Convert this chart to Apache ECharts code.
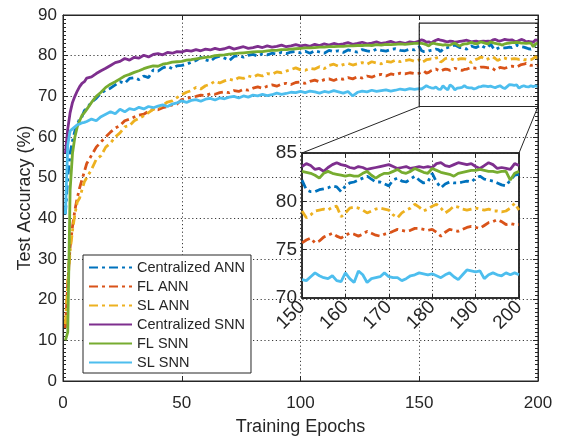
<!DOCTYPE html>
<html>
<head>
<meta charset="utf-8">
<script src="https://cdn.jsdelivr.net/npm/echarts@6/dist/echarts.min.js"></script>
<style>
  html, body { margin: 0; padding: 0; background: #fff; }
  #main { width: 561px; height: 441px; }
</style>
</head>
<body>
<div id="main"></div>
<script>
// epochs sampled: every epoch early and inside the zoom window, every 2nd in between
const epochs = [1,2,3,4,5,6,7,8,9,
  10,12,14,16,18,20,22,24,26,28,30,32,34,36,38,40,42,44,46,48,
  50,52,54,56,58,60,62,64,66,68,70,72,74,76,78,80,82,84,86,88,90,92,94,96,98,
  100,102,104,106,108,110,112,114,116,118,120,122,124,126,128,130,132,134,136,138,140,142,144,146,148,
  150,151,152,153,154,155,156,157,158,159,160,161,162,163,164,165,166,167,168,169,170,
  171,172,173,174,175,176,177,178,179,180,181,182,183,184,185,186,187,188,189,190,
  191,192,193,194,195,196,197,198,199,200];

const centralizedAnn = [41,50,56,59,61.5,63,64.5,65,66.5,
  67,68.6,69.5,70.8,71.5,72,72.8,73.6,73.2,74.4,74.6,74.1,75.0,74.6,76.5,76.2,77.0,77.4,76.8,77.5,
  77.6,77.9,78.4,78.8,79.6,79.0,78.6,79.5,79.9,79.4,78.8,79.8,80.0,79.6,80.1,80.3,79.9,80.5,80.2,80.6,80.4,80.8,80.5,80.9,81.0,
  80.7,81.1,80.6,81.2,80.9,80.6,81.3,81.0,81.2,80.8,81.4,81.1,80.9,81.5,81.2,81.0,81.6,81.3,81.1,81.5,81.7,81.3,81.2,81.6,81.4,
  82.2,81.2,81.0,81.0,81.2,81.3,81.4,81.6,81.5,81.0,81.6,81.9,82.0,82.2,82.4,82.6,82.3,82.0,82.0,81.8,81.6,
  82.2,82.4,82.1,82.0,82.3,82.6,82.2,81.9,82.0,82.9,82.0,81.4,81.8,82.0,81.9,81.9,82.0,82.1,82.0,82.4,
  82.6,82.3,82.2,82.1,81.9,81.7,81.6,82.2,82.7,82.8];

const flAnn = [13,24,33,38,42,45,47.5,49.5,51.5,
  53.5,55.5,57.5,58.8,60,61.2,62.2,62.8,64.0,64.4,64.9,65.4,65.6,66.3,66.8,66.7,67.2,67.5,67.9,68.1,
  69.2,69.5,69.8,70.0,70.3,70.2,70.6,70.5,70.9,71.1,70.9,71.4,71.2,71.7,71.5,72.0,72.3,72.0,72.5,72.8,72.5,73.0,73.2,72.9,73.4,
  73.5,73.2,73.7,74.0,73.6,74.1,74.3,73.9,74.4,74.2,74.6,74.3,74.8,74.5,75.0,74.7,75.2,75.4,75.0,75.5,75.3,75.7,75.5,75.8,75.6,
  75.7,76.0,76.2,75.7,75.9,76.3,76.5,76.7,76.4,76.2,76.5,76.7,76.6,76.4,76.6,76.9,76.7,76.5,76.4,76.6,76.7,
  76.9,77.1,77.0,76.9,77.0,77.2,77.2,77.1,77.0,77.1,76.8,76.4,76.8,77.1,77.0,76.9,77.1,77.3,77.4,77.3,
  77.2,77.5,77.8,77.9,78.1,77.9,77.6,77.7,77.6,77.6];

const slAnn = [14,24,32,37,41,44,45,47,49,
  50,52,54.5,55.4,57.5,58.5,60,61,62.5,62.8,64,64.6,65.2,66.0,66.8,67.2,67.8,68.6,68.9,69.7,
  70.4,71.0,71.4,72.2,71.8,72.6,73.0,73.7,73.3,73.8,74.2,73.9,74.6,74.4,75.0,74.7,75.3,75.0,75.6,75.4,76.0,75.8,76.2,76.6,77.0,
  76.5,76.4,76.9,76.7,77.3,76.8,77.6,77.9,77.4,77.8,78.1,77.7,78.0,78.3,77.9,78.5,78.2,78.0,78.6,78.4,78.9,78.5,78.8,79.0,78.6,
  79.0,78.3,78.6,79.0,79.1,79.2,79.1,79.4,79.5,78.4,78.8,79.3,79.4,79.3,79.1,78.8,79.0,79.2,79.3,79.2,79.1,
  78.6,78.3,78.8,79.1,79.3,79.7,79.4,79.0,79.2,79.5,79.7,79.3,78.8,79.1,79.5,79.4,79.2,79.1,79.2,79.3,
  79.2,79.1,79.2,79.0,79.0,78.9,79.0,79.3,79.8,79.1];

const centralizedSnn = [56,62,66,68.5,70,71.3,72.4,73.2,73.6,
  74.5,74.8,75.6,76.3,76.9,77.6,78.3,78.6,79.3,78.9,79.6,79.4,80.1,79.7,80.3,80.5,80.2,80.8,80.6,81.0,
  80.9,81.3,81.1,81.5,81.2,81.6,81.4,81.8,81.5,81.7,82.1,81.6,81.9,82.2,81.8,82.0,82.3,82.0,82.4,82.1,82.3,82.6,82.2,82.4,82.7,
  82.4,82.6,82.3,82.8,82.5,82.9,82.6,83.0,82.7,82.9,83.2,82.8,83.0,83.3,82.9,83.1,83.4,83.0,83.2,83.5,83.1,83.3,83.0,83.4,83.2,
  83.6,83.9,83.7,83.3,83.4,83.1,83.5,83.8,84.0,83.8,83.7,83.5,83.4,83.6,83.5,83.3,83.4,83.5,83.6,83.7,83.8,
  83.6,83.4,83.5,83.6,83.4,83.5,83.6,83.5,83.6,83.5,83.9,84.0,83.7,83.6,83.8,84.0,83.9,83.8,83.9,83.6,
  83.4,83.7,84.0,83.8,83.4,83.5,83.4,83.3,83.9,83.7];

const flSnn = [10,12,47,56,60,62.5,64,65.3,66,
  66.8,68.5,70,71,72.2,73,73.6,74.3,75,75.4,75.9,76.3,76.8,77.2,77.5,77.4,77.9,78.1,78.4,78.5,
  78.6,78.9,79.0,79.2,79.4,79.6,79.7,80.0,80.1,80.2,80.4,80.5,80.6,80.7,80.8,80.9,81.0,81.0,81.2,81.3,81.3,81.5,81.5,81.6,81.7,
  81.8,81.9,81.9,82.0,82.1,82.1,82.2,82.2,82.3,82.3,82.4,82.4,82.5,82.5,82.6,82.5,82.7,82.6,82.8,82.7,82.8,82.9,82.8,82.9,83.0,
  83.1,83.0,82.9,82.7,82.4,82.9,83.1,82.9,82.8,82.7,82.6,82.7,82.6,82.6,82.9,83.1,82.7,82.4,82.7,82.9,82.9,
  83.1,83.3,83.0,82.9,83.1,83.4,83.2,83.0,82.9,83.4,83.2,83.0,82.9,82.8,82.6,82.9,83.0,83.1,83.2,83.2,
  83.3,83.2,83.1,83.1,83.0,83.1,83.1,82.2,82.9,83.1];

const slSnn = [41,58,61.5,62,62.5,63,63.2,63.5,63.6,
  63.8,64.4,64.0,65.0,65.6,66.2,65.7,66.8,66.2,67.0,66.7,67.3,66.9,67.5,67.2,67.6,67.9,67.5,68.1,68.4,
  68.9,68.5,69.0,69.2,68.8,69.3,69.5,69.1,69.6,69.4,69.8,70.0,69.6,70.1,69.8,70.3,70.1,70.5,70.2,70.4,70.8,70.5,70.7,71.0,70.9,
  71.2,70.9,71.3,71.1,70.8,71.2,71.0,71.4,71.1,70.8,71.2,70.1,71.0,71.3,71.1,71.5,71.2,71.4,71.6,71.3,71.5,71.8,71.6,71.9,71.7,
  71.9,71.8,72.2,72.6,72.3,72.1,72.0,72.3,71.8,71.7,72.6,72.0,71.6,72.8,72.4,71.6,72.0,72.1,72.2,72.6,72.2,
  72.1,72.1,71.8,72.0,72.3,72.4,72.6,72.5,72.4,72.5,72.3,72.1,72.4,72.6,72.2,71.9,72.4,72.9,72.8,72.7,
  72.8,72.0,72.4,72.6,72.4,72.3,72.6,72.4,72.6,72.4];

const seriesNames = ['Centralized ANN', 'FL ANN', 'SL ANN', 'Centralized SNN', 'FL SNN', 'SL SNN'];
const seriesValues = [centralizedAnn, flAnn, slAnn, centralizedSnn, flSnn, slSnn];
const seriesColors = ['#0072BD', '#D95319', '#EDB120', '#7E2F8E', '#77AC30', '#4DBEEE'];
const seriesDashed = [true, true, true, false, false, false];

// zoom window shown in the inset
const zoomX = [150, 200];
const zoomY = [67.5, 88];

const ink = '#262626';
const font = 'Liberation Sans, Arial, Helvetica, sans-serif';
const gridDots = { show: true, lineStyle: { color: '#3a3a3a', width: 1, type: [1.2, 2.6] } };

const chart = echarts.init(document.getElementById('main'));

function mainAxis(extra) {
  return Object.assign({
    type: 'value', gridIndex: 0,
    axisLine: { show: true, onZero: false, lineStyle: { color: ink, width: 1 } },
    axisTick: { show: true, inside: true, length: 5, lineStyle: { color: ink } },
    axisLabel: { color: ink, fontSize: 17, fontFamily: font },
    splitLine: { show: false },
    nameMoveOverlap: false
  }, extra);
}

function insetAxis(extra) {
  return Object.assign({
    type: 'value', gridIndex: 1, z: 5,
    axisLine: { show: true, onZero: false, lineStyle: { color: ink, width: 1.5 } },
    axisTick: { show: true, inside: true, length: 4, lineStyle: { color: ink } },
    axisLabel: { color: ink, fontSize: 19, fontFamily: font },
    splitLine: { show: false }
  }, extra);
}

const series = [];
seriesNames.forEach((name, k) => {
  const pts = seriesValues[k].map((v, i) => [epochs[i], v]);
  const line = {
    color: seriesColors[k], width: 2.8,
    type: seriesDashed[k] ? [9, 4, 3, 4] : 'solid'
  };
  series.push({
    name: name, type: 'line', xAxisIndex: 0, yAxisIndex: 0,
    data: pts, showSymbol: false, symbol: 'none', lineStyle: line,
    itemStyle: { color: seriesColors[k] }, z: 3
  });
  series.push({
    name: name, type: 'line', xAxisIndex: 1, yAxisIndex: 1,
    data: pts.filter(p => p[0] >= zoomX[0]), showSymbol: false, symbol: 'none',
    lineStyle: line, itemStyle: { color: seriesColors[k] }, z: 8, clip: true
  });
});

// outline of the zoomed region on the main axes
series.push({
  type: 'line', xAxisIndex: 0, yAxisIndex: 0, silent: true, symbol: 'none', z: 4,
  lineStyle: { color: ink, width: 1.2 },
  data: [[zoomX[0], zoomY[0]], [zoomX[1], zoomY[0]], [zoomX[1], zoomY[1]], [zoomX[0], zoomY[1]], [zoomX[0], zoomY[0]]]
});

const option = {
  animation: false,
  backgroundColor: '#fff',
  grid: [
    { left: 63, right: 23, top: 15, bottom: 57, show: true, borderColor: ink, borderWidth: 1, backgroundColor: 'transparent' },
    { left: 302, right: 42, top: 153, bottom: 143, show: true, borderColor: ink, borderWidth: 1.5, backgroundColor: '#fff', z: 4 }
  ],
  legend: {
    data: seriesNames,
    orient: 'vertical', left: 83, top: 255,
    itemWidth: 43, itemHeight: 14, itemGap: 4,
    padding: [5, 6, 3, 5],
    itemStyle: { opacity: 0 },
    backgroundColor: '#fff', borderColor: ink, borderWidth: 1, borderRadius: 0,
    textStyle: { color: ink, fontSize: 14.5, fontFamily: font },
    z: 10
  },
  xAxis: [
    mainAxis({ min: 0, max: 200, interval: 50, position: 'bottom',
      axisLabel: { color: ink, fontSize: 17, fontFamily: font, margin: 14 },
      splitLine: gridDots,
      name: 'Training Epochs', nameLocation: 'middle', nameGap: 37,
      nameTextStyle: { color: ink, fontSize: 18, fontFamily: font } }),
    insetAxis({ min: 150, max: 200, interval: 10, position: 'bottom',
      axisLabel: { color: ink, fontSize: 19, fontFamily: font, rotate: 45, margin: 6 },
      splitLine: gridDots }),
    mainAxis({ min: 0, max: 200, interval: 50, position: 'top', axisLabel: { show: false } }),
    insetAxis({ min: 150, max: 200, interval: 10, position: 'top', axisLabel: { show: false } })
  ],
  yAxis: [
    mainAxis({ min: 0, max: 90, interval: 10, position: 'left',
      axisLabel: { color: ink, fontSize: 17, fontFamily: font, margin: 6 },
      minorTick: { show: true, splitNumber: 10, length: 3, lineStyle: { color: ink } },
      splitLine: gridDots,
      name: 'Test Accuracy (%)', nameLocation: 'middle', nameGap: 29,
      nameTextStyle: { color: ink, fontSize: 18, fontFamily: font } }),
    insetAxis({ min: 70, max: 85, interval: 5, position: 'left',
      axisLabel: { color: ink, fontSize: 19, fontFamily: font, margin: 5 },
      splitLine: gridDots }),
    mainAxis({ min: 0, max: 90, interval: 10, position: 'right', axisLabel: { show: false },
      minorTick: { show: true, splitNumber: 10, length: 3, lineStyle: { color: ink } } }),
    insetAxis({ min: 70, max: 85, interval: 5, position: 'right', axisLabel: { show: false } })
  ],
  series: series
};

chart.setOption(option);

// connector lines from the zoom window corners to the inset's top corners
const a = chart.convertToPixel({ xAxisIndex: 0, yAxisIndex: 0 }, [zoomX[0], zoomY[0]]);
const b = chart.convertToPixel({ xAxisIndex: 0, yAxisIndex: 0 }, [zoomX[1], zoomY[0]]);
const c = chart.convertToPixel({ xAxisIndex: 1, yAxisIndex: 1 }, [150, 85]);
const d = chart.convertToPixel({ xAxisIndex: 1, yAxisIndex: 1 }, [200, 85]);
chart.setOption({
  graphic: [
    { type: 'line', z: 20, shape: { x1: a[0], y1: a[1], x2: c[0], y2: c[1] }, style: { stroke: ink, lineWidth: 1 } },
    { type: 'line', z: 20, shape: { x1: b[0], y1: b[1], x2: d[0], y2: d[1] }, style: { stroke: ink, lineWidth: 1 } }
  ]
});
</script>
</body>
</html>
